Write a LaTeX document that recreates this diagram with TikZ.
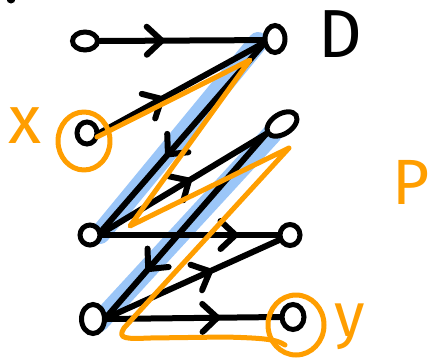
\documentclass[tikz,border=0pt]{standalone}
\usepackage{fontspec}
\setmainfont{Fira Sans}
\usetikzlibrary{shapes.geometric,decorations.markings}
\definecolor{hlblue}{RGB}{155,198,248}
\definecolor{orng}{RGB}{255,158,0}
\tikzset{
  vtx/.style={ellipse, draw=black, line width=5pt, fill=white, inner sep=0pt},
  edge/.style={draw=black, line width=6pt, line cap=round, line join=round},
  midarrow/.style={postaction={decorate}, decoration={markings,
      mark=at position #1 with {\draw[black, line width=6pt, line cap=round, line join=round]
        (-15pt,14pt) -- (0pt,0pt) -- (-15pt,-14pt);}}},
  hl/.style={draw=hlblue, line width=20pt, line cap=round},
  annot/.style={draw=orng, line width=5pt, line cap=round, line join=round},
  bigtext/.style={font=\fontsize{68}{68}\selectfont, inner sep=0pt},
}
\begin{document}
\begin{tikzpicture}[x=1pt,y=-1pt]
\useasboundingbox (0,0) rectangle (430,359);
% blue highlight (under everything)
\coordinate (hB) at (258,42);
\coordinate (hF) at (100,234);
\coordinate (hE) at (272,134);
\coordinate (hH) at (99,322);
\draw[hl] (hB) -- (hF);
\draw[hl] (hE) -- (hH);
% vertices
\node[vtx, minimum width=25pt, minimum height=18pt] (A) at (85,41) {};
\node[vtx, minimum width=20pt, minimum height=27pt] (B) at (275,39) {};
\node[vtx, minimum width=20pt, minimum height=22pt] (C) at (87,133) {};
\node[vtx, minimum width=33pt, minimum height=20pt, rotate=32] (E) at (282,124) {};
\node[vtx, minimum width=20pt, minimum height=20pt] (F) at (90,235) {};
\node[vtx, minimum width=20pt, minimum height=21pt] (G) at (290,235) {};
\node[vtx, minimum width=23pt, minimum height=29pt] (H) at (93,319) {};
\node[vtx, minimum width=22pt, minimum height=25pt] (I) at (293,317) {};
% edges
\draw[edge, midarrow=0.38] (A.east) -- (B.185);
\draw[edge, midarrow=0.38] (C.east) -- (B.200);
\draw[edge, midarrow=0.59] (B.205) -- (F.20);
\draw[edge, midarrow=0.53] (F.10) -- (E.west);
\draw[edge, midarrow=0.76] (F.east) -- (G.west);
\draw[edge, midarrow=0.74] (E.west) -- (H.10);
\draw[edge, midarrow=0.60] (H.5) -- (G.205);
\draw[edge, midarrow=0.64] (H.east) -- (I.west);
% small stroke at top-left corner
\fill[black] (11,-1) circle (4.5pt);
% orange annotation
\draw[annot] (84,141) ellipse [x radius=26, y radius=29];
\draw[annot] (296,325) ellipse [x radius=28, y radius=30];
\draw[annot] (97,137) -- (250,60) -- (130,226) -- (289,148) -- (124,328)
  .. controls (117,339) and (126,339) .. (150,338) -- (225,337)
  .. controls (262,338) and (276,339) .. (285,345);
% labels
\node[bigtext, text=black] (labD) at (340,34) {D};
\node[bigtext, text=orng] (labx) at (25,126) {x};
\node[bigtext, text=orng, font=\fontsize{62}{62}\selectfont] (laby) at (350,327) {y};
\node[bigtext, text=orng, anchor=west, font=\fontsize{64}{64}\selectfont] (labP) at (392,182) {P};
\end{tikzpicture}
\end{document}
